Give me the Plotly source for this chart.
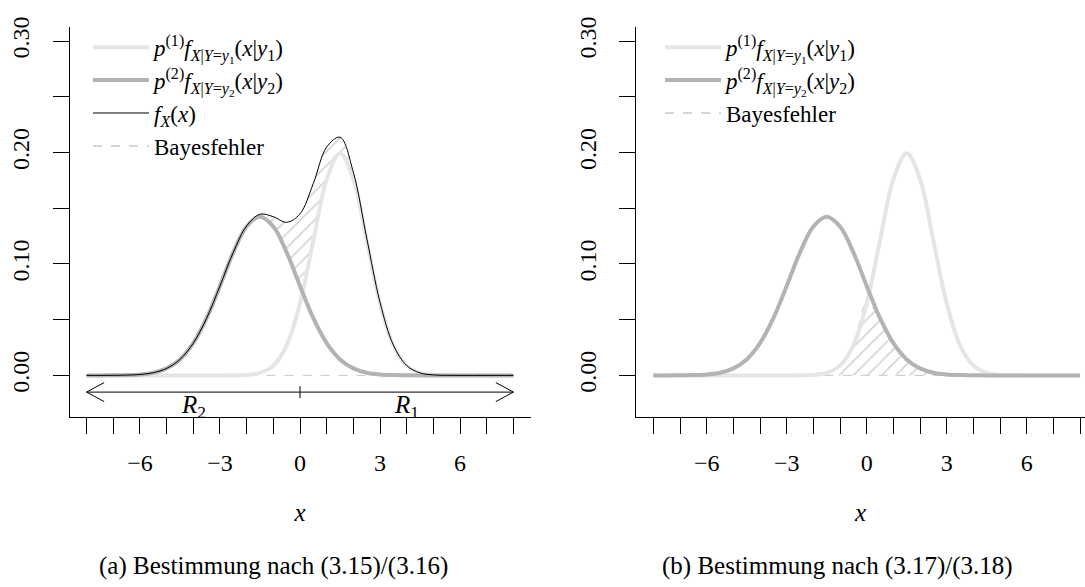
import numpy as np
import plotly.graph_objects as go

# ---------------- data ----------------
x_grid = [-8.0, -7.5, -7.0, -6.5, -6.0, -5.5, -5.0, -4.5, -4.0, -3.5, -3.0, -2.5,
          -2.0, -1.5, -1.0, -0.5, 0.0, 0.5, 1.0, 1.5, 2.0, 2.5, 3.0, 3.5,
          4.0, 4.5, 5.0, 5.5, 6.0, 6.5, 7.0, 7.5, 8.0]

# p(1) f_{X|Y=y1}(x|y1)
p1_vals = [0, 0, 0, 0, 0, 0, 0, 0, 0, 0, 0.000008, 0.000067,
           0.000436, 0.002216, 0.008764, 0.026995, 0.064759, 0.120985, 0.176033, 0.199471, 0.176033, 0.120985, 0.064759, 0.026995,
           0.008764, 0.002216, 0.000436, 0.000067, 0.000008, 0, 0, 0, 0]

# p(2) f_{X|Y=y2}(x|y2)
p2_vals = [0.000003, 0.000015, 0.000064, 0.000242, 0.000813, 0.002405, 0.006260, 0.014344, 0.028930, 0.051360, 0.080260, 0.110404,
           0.133685, 0.142489, 0.133685, 0.110404, 0.080260, 0.051360, 0.028930, 0.014344, 0.006260, 0.002405, 0.000813, 0.000242,
           0.000064, 0.000015, 0.000003, 0, 0, 0, 0, 0, 0]

# f_X(x)
fx_vals = [0.000003, 0.000015, 0.000064, 0.000242, 0.000813, 0.002405, 0.006260, 0.014344, 0.028930, 0.051360, 0.080268, 0.110471,
           0.134121, 0.144705, 0.142449, 0.137399, 0.145019, 0.172345, 0.204963, 0.213815, 0.182293, 0.123390, 0.065572, 0.027237,
           0.008828, 0.002231, 0.000439, 0.000067, 0.000008, 0, 0, 0, 0]

y_major_ticks = [0.00, 0.10, 0.20, 0.30]
y_major_text = ["0.00", "0.10", "0.20", "0.30"]
y_minor_ticks = [0.05, 0.15, 0.25]
x_major_ticks = [-6, -3, 0, 3, 6]
x_major_text = ["\u22126", "\u22123", "0", "3", "6"]
x_minor_ticks = [-8, -7, -5, -4, -2, -1, 1, 2, 4, 5, 7, 8]

region_bounds = [-8, 0, 8]
region_arrow_y = -0.015
region_labels = ["<i>R</i><sub>2</sub>", "<i>R</i><sub>1</sub>"]
region_label_x = [-4, 4]
region_label_y = -0.028

captions = ["(a) Bestimmung nach (3.15)/(3.16)", "(b) Bestimmung nach (3.17)/(3.18)"]

lab_p1 = "<i>p</i><sup>(1)</sup><i>f</i><sub><i>X</i>|<i>Y</i>=<i>y</i><sub>1</sub></sub>(<i>x</i>|<i>y</i><sub>1</sub>)"
lab_p2 = "<i>p</i><sup>(2)</sup><i>f</i><sub><i>X</i>|<i>Y</i>=<i>y</i><sub>2</sub></sub>(<i>x</i>|<i>y</i><sub>2</sub>)"
lab_fx = "<i>f</i><sub><i>X</i></sub>(<i>x</i>)"
lab_err = "Bayesfehler"

# ---------------- styles ----------------
FONT = "Liberation Serif"
C_P1 = "#e5e5e5"
C_P2 = "#b3b3b3"
C_HATCH = "#9c9c9c"
C_ERRLINE = "#c8c8c8"
W = 1085
H = 587

xg = np.array(x_grid)
p1 = np.array(p1_vals)
p2 = np.array(p2_vals)
fx = np.array(fx_vals)

hatch = dict(shape="/", fgcolor=C_HATCH, bgcolor="rgba(0,0,0,0)", size=10, solidity=0.15)

fig = go.Figure()

# ---------- left panel ----------
upper = fx
lower = np.maximum(p1, p2)
fig.add_trace(go.Scatter(
    x=np.concatenate([xg, xg[::-1]]), y=np.concatenate([upper, lower[::-1]]),
    mode="lines", fill="toself", line=dict(color="rgba(0,0,0,0)", width=0, shape="spline"),
    fillcolor="rgba(0,0,0,0)", fillpattern=hatch,
    showlegend=False, hoverinfo="skip", xaxis="x", yaxis="y"))
fig.add_trace(go.Scatter(x=xg, y=p1, mode="lines", line=dict(color=C_P1, width=4, shape="spline"),
                         name=lab_p1, legend="legend", xaxis="x", yaxis="y"))
fig.add_trace(go.Scatter(x=xg, y=p2, mode="lines", line=dict(color=C_P2, width=4, shape="spline"),
                         name=lab_p2, legend="legend", xaxis="x", yaxis="y"))
fig.add_trace(go.Scatter(x=xg, y=fx, mode="lines", line=dict(color="black", width=1, shape="spline"),
                         name=lab_fx, legend="legend", xaxis="x", yaxis="y"))
fig.add_trace(go.Scatter(x=[None], y=[None], mode="lines", line=dict(color=C_ERRLINE, width=1.5, dash="dash"),
                         name=lab_err, legend="legend", xaxis="x", yaxis="y"))

# ---------- right panel ----------
upper2 = np.minimum(p1, p2)
fig.add_trace(go.Scatter(
    x=np.concatenate([xg, xg[::-1]]), y=np.concatenate([upper2, np.zeros_like(xg)]),
    mode="lines", fill="toself", line=dict(color=C_ERRLINE, width=1, dash="dash", shape="spline"),
    fillcolor="rgba(0,0,0,0)", fillpattern=hatch,
    showlegend=False, hoverinfo="skip", xaxis="x2", yaxis="y2"))
fig.add_trace(go.Scatter(x=xg, y=p1, mode="lines", line=dict(color=C_P1, width=4, shape="spline"),
                         name=lab_p1, legend="legend2", xaxis="x2", yaxis="y2"))
fig.add_trace(go.Scatter(x=xg, y=p2, mode="lines", line=dict(color=C_P2, width=4, shape="spline"),
                         name=lab_p2, legend="legend2", xaxis="x2", yaxis="y2"))
fig.add_trace(go.Scatter(x=[None], y=[None], mode="lines", line=dict(color=C_ERRLINE, width=1.5, dash="dash"),
                         name=lab_err, legend="legend2", xaxis="x2", yaxis="y2"))

# ---------- axes ----------
tickfont = dict(family=FONT, size=24, color="black")
common_x = dict(tickmode="array", tickvals=x_major_ticks, ticktext=x_major_text, ticks="outside", ticklen=16,
                tickwidth=1, tickcolor="black", showline=True, linecolor="black", linewidth=1,
                minor=dict(tickmode="array", tickvals=x_minor_ticks, ticks="outside", ticklen=16,
                           tickwidth=1, tickcolor="black", showgrid=False),
                showgrid=False, zeroline=False, tickfont=tickfont, ticklabelstandoff=8,
                title=dict(text="<i>x</i>", font=dict(family=FONT, size=25, color="black"), standoff=28))
common_y = dict(tickmode="array", tickvals=y_major_ticks, ticktext=y_major_text, ticks="outside", ticklen=16,
                tickwidth=1, tickcolor="black", showline=True, linecolor="black", linewidth=1,
                minor=dict(tickmode="array", tickvals=y_minor_ticks, ticks="outside", ticklen=16,
                           tickwidth=1, tickcolor="black", showgrid=False),
                showgrid=False, zeroline=False, tickfont=tickfont, tickangle=-90, ticklabelstandoff=14,
                range=[-0.0373, 0.3130])

y_dom = [1 - 414 / H, 1 - 17 / H]
fig.update_layout(
    xaxis=dict(common_x, domain=[69.5 / W, 530.5 / W], range=[-8.64, 8.64], anchor="y"),
    yaxis=dict(common_y, domain=y_dom, anchor="x"),
    xaxis2=dict(common_x, domain=[636.3 / W, 1.0], range=[-8.64, (W - 866.7) / 26.667], anchor="y2"),
    yaxis2=dict(common_y, domain=y_dom, anchor="x2"),
)

# ---------- region arrows (left panel) ----------
shapes = []
shapes.append(dict(type="line", xref="x", yref="y", x0=x_grid[0], x1=x_grid[-1], y0=0, y1=0, layer="below",
                   line=dict(color=C_ERRLINE, width=1, dash="dash")))
shapes.append(dict(type="line", xref="x", yref="y", x0=region_bounds[0], x1=region_bounds[-1],
                   y0=region_arrow_y, y1=region_arrow_y, line=dict(color="black", width=1)))
for xb, sgn in [(region_bounds[0], 1), (region_bounds[-1], -1)]:
    shapes.append(dict(type="path", xref="x", yref="y", xsizemode="pixel", ysizemode="pixel",
                       xanchor=xb, yanchor=region_arrow_y,
                       path=f"M {sgn*17.6},9.5 L 0,0 L {sgn*17.6},-9.5",
                       line=dict(color="black", width=1)))
shapes.append(dict(type="line", xref="x", yref="y", ysizemode="pixel", yanchor=region_arrow_y,
                   x0=region_bounds[1], x1=region_bounds[1], y0=-6, y1=6, line=dict(color="black", width=1)))

annotations = []
for lx, lt in zip(region_label_x, region_labels):
    annotations.append(dict(x=lx, y=region_label_y, xref="x", yref="y", text=lt, showarrow=False,
                            font=dict(family=FONT, size=25, color="black"), xanchor="center", yanchor="middle"))
for cx, ct in zip([273.5 / W, 837.5 / W], captions):
    annotations.append(dict(x=cx, y=1 - 566 / H, xref="paper", yref="paper", text=ct, showarrow=False,
                            font=dict(family=FONT, size=25, color="black"), xanchor="center", yanchor="middle"))

legend_common = dict(font=dict(family=FONT, size=23, color="black"), bgcolor="rgba(0,0,0,0)", borderwidth=0,
                     xref="paper", yref="paper", xanchor="left", yanchor="top", itemwidth=56,
                     tracegroupgap=0, itemclick=False, itemdoubleclick=False)

fig.update_layout(
    width=W, height=H, margin=dict(l=0, r=0, t=0, b=0),
    paper_bgcolor="white", plot_bgcolor="white",
    font=dict(family=FONT, size=24, color="black"),
    shapes=shapes, annotations=annotations,
    legend=dict(legend_common, x=88 / W, y=1 - 16 / H),
    legend2=dict(legend_common, x=660 / W, y=1 - 16 / H),
)

fig.write_html("out.html")
